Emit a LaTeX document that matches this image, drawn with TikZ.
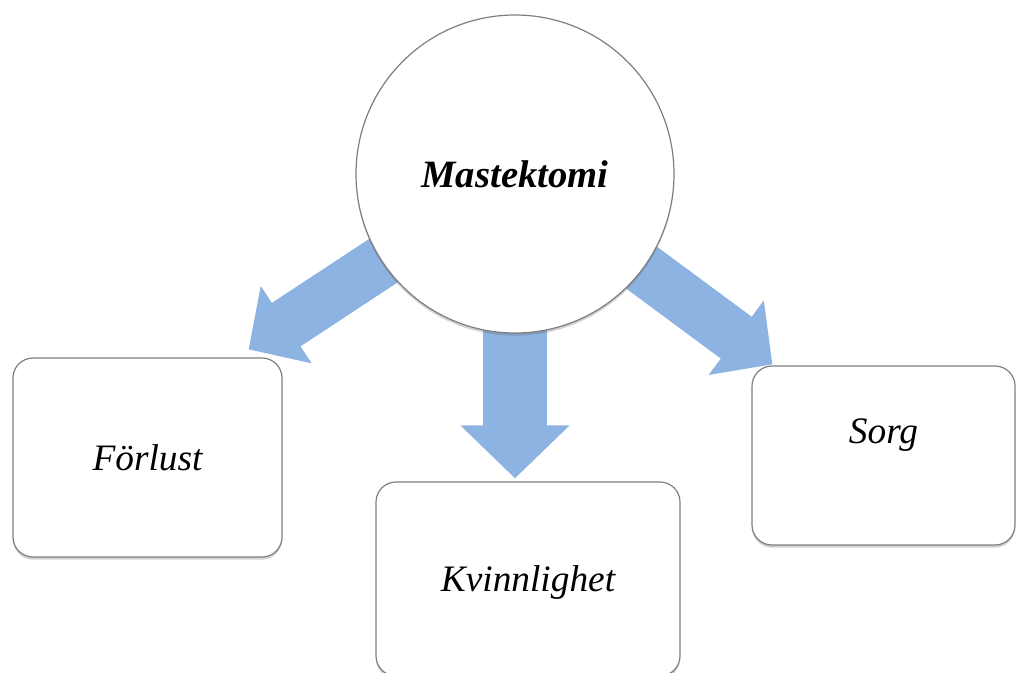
\documentclass[tikz,border=0pt]{standalone}
\usepackage{fontspec}
\setmainfont{Liberation Serif}
\usetikzlibrary{arrows.meta,shadows,backgrounds,calc}

\definecolor{arrowblue}{HTML}{8DB3E2}
\definecolor{edgegray}{HTML}{7F7F7F}

\tikzset{
	softshadow/.style={drop shadow={shadow xshift=0pt, shadow yshift=-2pt, opacity=0.3, fill=black!60}},
	themebox/.style={draw=edgegray, line width=0.9pt, fill=white, rounded corners=15pt, softshadow, inner sep=0pt},
	themetext/.style={font=\fontsize{28}{32}\selectfont\itshape, text depth=0pt},
	hub/.style={circle, draw=edgegray, line width=0.9pt, fill=white, softshadow, minimum size=318*0.75pt, inner sep=0pt,
		font=\fontsize{29}{33}\selectfont\bfseries\itshape},
	blockarrow/.style={draw=arrowblue, line width=39pt, -{Triangle[length=33.75pt, width=67.5pt]}},
	bigblockarrow/.style={draw=arrowblue, line width=48pt, -{Triangle[length=39.75pt, width=79.5pt]}}
}

\begin{document}
\begin{tikzpicture}[x=0.75pt, y=-0.75pt]
	% frame
	\useasboundingbox (0,0) rectangle (1016,672);
	
	% centre
	\node[hub] (mastektomi) at (515,174) {Mastektomi};
	
	% themes
	\node[themebox, themetext, minimum width=269*0.75pt, minimum height=199*0.75pt] (forlust) at (147.5,457.5) {F\"orlust};
	\node[themebox, themetext, minimum width=304*0.75pt, minimum height=194*0.75pt] (kvinnlighet) at (528,579) {Kvinnlighet};
	\node[themebox, minimum width=263*0.75pt, minimum height=179*0.75pt,
		label={[themetext, yshift=24*0.75pt]center:Sorg}] (sorg) at (883.5,455.5) {};
	
	% arrows
	\coordinate (lefttip) at ($(forlust.north east)+(-34,-8)$);
	\coordinate (midtip) at ($(mastektomi.center |- kvinnlighet.north)+(0,-3)$);
	\coordinate (righttip) at ($(sorg.north west)+(21,-1)$);
	\begin{scope}[on background layer]
		\draw[blockarrow] (mastektomi.center) -- (lefttip);
		\draw[bigblockarrow] (mastektomi.center) -- (midtip);
		\draw[blockarrow] (mastektomi.center) -- (righttip);
	\end{scope}
\end{tikzpicture}
\end{document}
